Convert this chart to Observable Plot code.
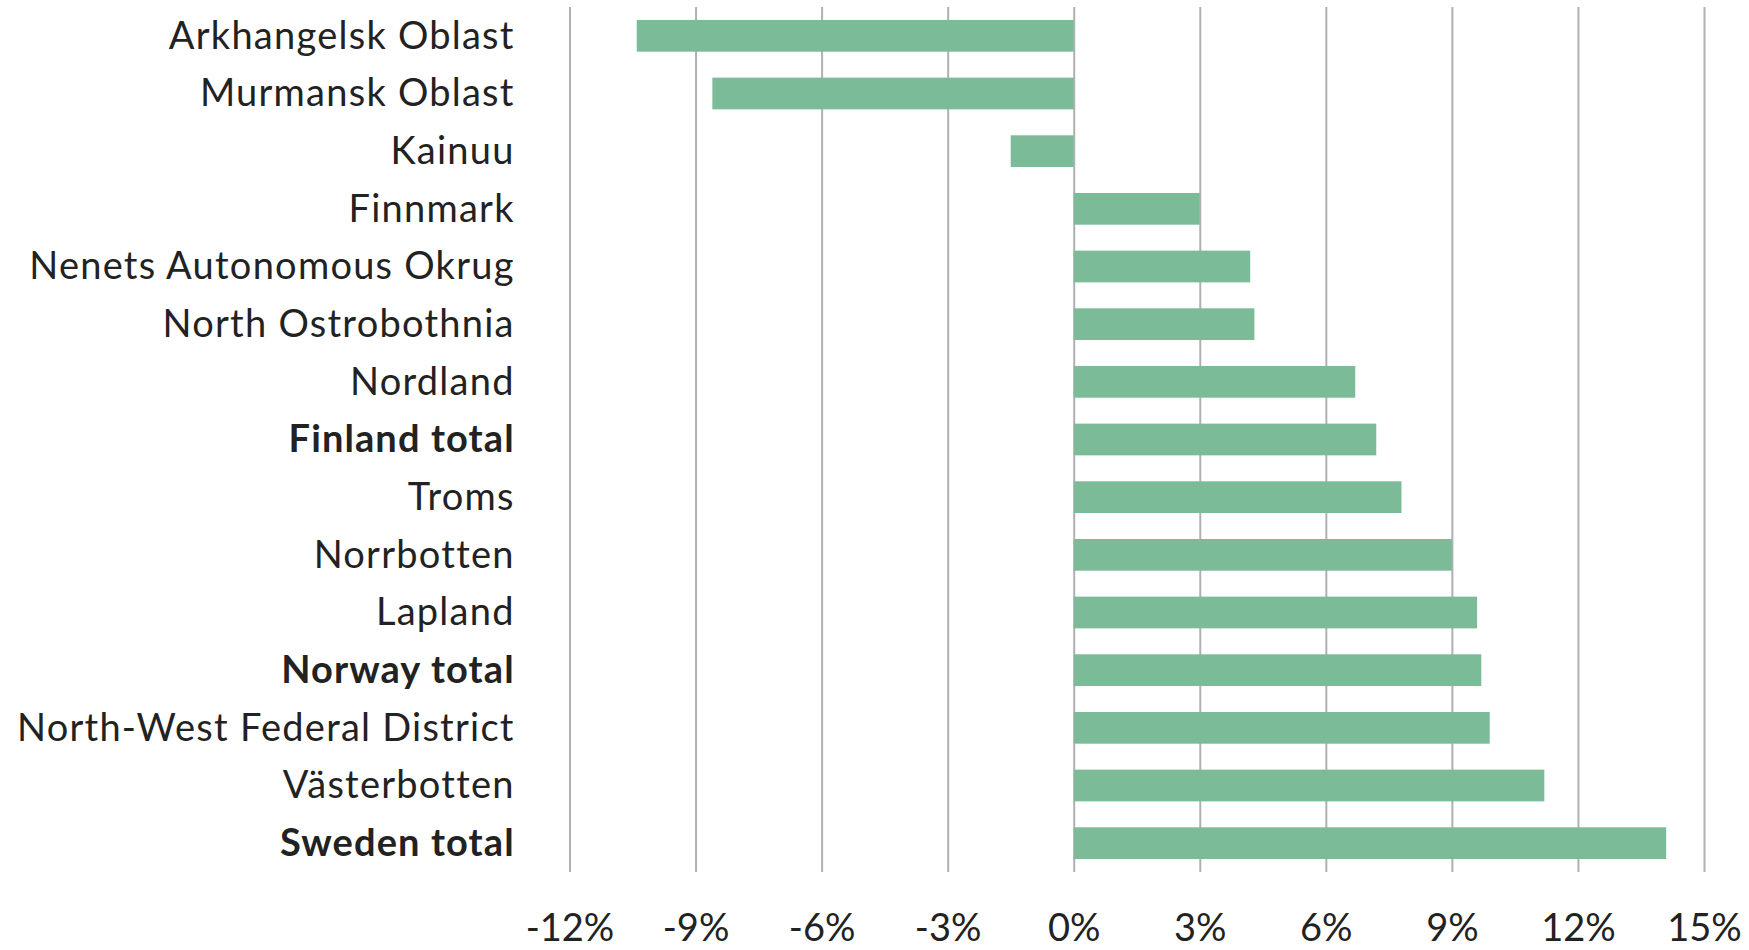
<!DOCTYPE html>
<html>
<head>
<meta charset="utf-8">
<script src="https://cdn.jsdelivr.net/npm/d3@7"></script>
<script src="https://cdn.jsdelivr.net/npm/@observablehq/plot@0.6"></script>
<style>
  html, body { margin: 0; padding: 0; background: #fff; }
</style>
</head>
<body>
<div id="chart"></div>
<script>
const regions = [
  "Arkhangelsk Oblast", "Murmansk Oblast", "Kainuu", "Finnmark",
  "Nenets Autonomous Okrug", "North Ostrobothnia", "Nordland", "Finland total",
  "Troms", "Norrbotten", "Lapland", "Norway total",
  "North-West Federal District", "Västerbotten", "Sweden total"
];
const change = [-10.4, -8.6, -1.5, 3.0, 4.2, 4.3, 6.7, 7.2, 7.8, 9.0, 9.6, 9.7, 9.9, 11.2, 14.1];
const boldRegions = ["Finland total", "Norway total", "Sweden total"];
const xTicks = [-12, -9, -6, -3, 0, 3, 6, 9, 12, 15];

const data = regions.map((r, i) => ({region: r, value: change[i]}));
const normalRegions = regions.filter(r => !boldRegions.includes(r));

const chart = Plot.plot({
  width: 1749,
  height: 950,
  marginLeft: 569.5,
  marginRight: 45,
  marginTop: 7,
  marginBottom: 78,
  style: {fontFamily: "Lato, sans-serif", fontSize: "38px", color: "#222", background: "#fff"},
  x: {domain: [-12, 15], label: null},
  y: {domain: regions, paddingInner: 0.45, paddingOuter: 0.225, round: false, label: null},
  marks: [
    Plot.gridX(xTicks, {stroke: "#b0b0b0", strokeOpacity: 1, strokeWidth: 2}),
    Plot.barX(data, {x: "value", y: "region", fill: "#7bbb97"}),
    Plot.axisX({ticks: xTicks, tickSize: 0, tickPadding: 41.5, tickFormat: d => d + "%", fontSize: 38, fill: "#222", label: null}),
    Plot.axisY({ticks: normalRegions, tickSize: 0, tickPadding: 55.3, fontSize: 38, fill: "#222", label: null}),
    Plot.axisY({ticks: boldRegions, tickSize: 0, tickPadding: 55.3, fontSize: 38, fontWeight: "bold", fill: "#222", label: null})
  ]
});
d3.select(chart).selectAll('g[aria-label="y-axis tick label"]')
  .attr("letter-spacing", function() {
    return this.getAttribute("font-weight") === "bold" ? "1.1px" : "1.25px";
  });
document.getElementById("chart").appendChild(chart);
</script>
</body>
</html>
